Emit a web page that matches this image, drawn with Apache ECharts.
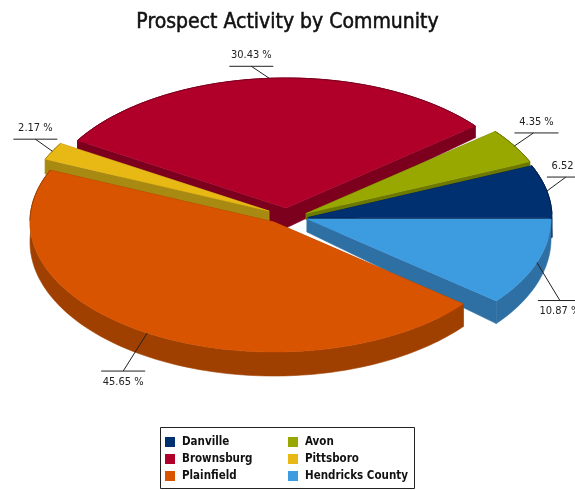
<!DOCTYPE html>
<html>
<head>
<meta charset="utf-8">
<style>html,body{margin:0;padding:0;background:#fff}#chart{width:575px;height:490px}</style>
<script src="https://cdn.jsdelivr.net/npm/echarts@6/dist/echarts.min.js"></script>
</head>
<body>
<div id="chart"></div>
<script>
// Share of prospects per community, in percent, going round from three o'clock.
const communities = ['Danville', 'Avon', 'Brownsburg', 'Pittsboro', 'Plainfield', 'Hendricks County'];
const shares = [6.52, 4.35, 30.43, 2.17, 45.65, 10.87];
const titleText = 'Prospect Activity by Community';

// Appearance of each slice: exploded centre, top and side colours, depth at the tip, label elbow offset.
const sliceStyle = [
  { cx: 308, cy: 217.5, top: '#003070', side: '#001f4a', tip: 10, elbow: [19, -14], shift: 3 },
  { cx: 306, cy: 213.5, top: '#98a800', side: '#6c7800', tip: 6,  elbow: [19, -13], shift: 3 },
  { cx: 286, cy: 208, top: '#b0002a', side: '#7c001e', tip: 20, elbow: [-18, -12], shift: 0 },
  { cx: 269, cy: 211, top: '#e8b815', side: '#a88a12', tip: 14, elbow: [-17, -12], shift: 0 },
  { cx: 274, cy: 222, top: '#d95400', side: '#a04000', tip: 19, elbow: [-24, 38], shift: 0 },
  { cx: 307, cy: 219, top: '#3d9ce0', side: '#2f70a4', tip: 13, elbow: [23, 38], shift: 0 }
];
const RX = 244, RY = 130;
const DEPTH_MID = 20, DEPTH_BACK = 13, DEPTH_FRONT = 4;
const total = shares.reduce((a, b) => a + b, 0);
const LABEL_FONT = '11px "Liberation Sans Narrow", "DejaVu Sans Condensed", sans-serif';

function startAngle(i) {
  let s = 0;
  for (let k = 0; k < i; k++) s += shares[k];
  return s / total * Math.PI * 2;
}

function rimDepth(a) {
  const s = Math.sin(a);
  return DEPTH_MID - (s > 0 ? DEPTH_BACK : DEPTH_FRONT) * s;
}

function renderSlice(i) {
  return function (params, api) {
    const st = sliceStyle[i];
    const value = api.value(0);
    const a0 = startAngle(i);
    const a1 = a0 + value / total * Math.PI * 2;
    const steps = Math.max(4, Math.round((a1 - a0) * 40));
    // Rim of the top face; depth grows toward the viewer.
    const rim = [];
    const backRim = [];
    for (let k = 0; k <= steps; k++) {
      const a = a0 + (a1 - a0) * k / steps;
      const p = [st.cx + RX * Math.cos(a), st.cy - RY * Math.sin(a), rimDepth(a)];
      rim.push(p);
      if (Math.sin(a) > 0) backRim.push([p[0], p[1]]);
    }
    const apex = [st.cx, st.cy, st.tip];
    const sideFill = { fill: st.side, stroke: st.side, lineWidth: 0.6 };
    const extrude = p => [p[0], p[1] + p[2]];
    const flat = p => [p[0], p[1]];
    const first = rim[0], last = rim[rim.length - 1];
    const children = [
      { type: 'polygon', shape: { points: [flat(apex), flat(first), extrude(first), extrude(apex)] }, style: sideFill },
      { type: 'polygon', shape: { points: [flat(apex), flat(last), extrude(last), extrude(apex)] }, style: sideFill },
      { type: 'polygon', shape: { points: rim.map(flat).concat(rim.slice().reverse().map(extrude)) }, style: sideFill },
      { type: 'polygon', shape: { points: [flat(apex)].concat(rim.map(flat)) }, style: { fill: st.top, stroke: st.top, lineWidth: 0.4 } }
    ];
    if (backRim.length > 1) {
      children.push({ type: 'polyline', shape: { points: backRim }, style: { fill: null, stroke: st.side, lineWidth: 1 } });
    }
    // Leader line from the rim at the slice's middle angle, then the value label.
    const mid = (a0 + a1) / 2;
    const ex = st.cx + RX * Math.cos(mid), ey = st.cy - RY * Math.sin(mid);
    const bx = ex + st.elbow[0], by = ey + st.elbow[1];
    const above = st.elbow[1] < 0;
    const labelX = bx + st.shift;
    children.push({
      type: 'polyline',
      shape: { points: [[ex, ey], [bx, by]] },
      style: { fill: null, stroke: '#222', lineWidth: 1 }
    });
    children.push({
      type: 'line',
      shape: { x1: labelX - 22, y1: by, x2: labelX + 22, y2: by },
      style: { stroke: '#222', lineWidth: 1 }
    });
    children.push({
      type: 'text',
      style: {
        x: labelX, y: above ? by - 11 : by + 11,
        text: value.toFixed(2) + ' %',
        font: LABEL_FONT, fill: '#222', align: 'center', verticalAlign: 'middle'
      }
    });
    return { type: 'group', children: children };
  };
}

// Paint order runs back to front so nearer slices overlap the farther ones.
const paintOrder = [2, 3, 1, 0, 5, 4];
const legendFont = {
  fontFamily: '"DejaVu Sans Condensed", sans-serif', fontWeight: 'bold', fontSize: 11.5,
  lineHeight: 11, color: '#111', padding: [0, 0, 0, 2]
};
const legendBase = {
  orient: 'vertical', selectedMode: false, icon: 'rect',
  itemWidth: 10, itemHeight: 10, itemGap: 5, padding: 0,
  textStyle: legendFont
};

const chart = echarts.init(document.getElementById('chart'), null, { renderer: 'canvas' });
chart.setOption({
  animation: false,
  backgroundColor: '#ffffff',
  title: {
    text: titleText, left: 'center', top: 7,
    textStyle: {
      fontFamily: '"DejaVu Sans Condensed", sans-serif', fontSize: 21, fontWeight: 'normal', color: '#111',
      textBorderColor: '#111', textBorderWidth: 0.5
    }
  },
  legend: [
    Object.assign({}, legendBase, { left: 165, top: 436, data: [communities[0], communities[2], communities[4]] }),
    Object.assign({}, legendBase, { left: 288, top: 436, data: [communities[1], communities[3], communities[5]] })
  ],
  graphic: [{
    type: 'rect', silent: true, z: -1,
    shape: { x: 160.5, y: 427.5, width: 254, height: 61 },
    style: { fill: '#fff', stroke: '#222', lineWidth: 1 }
  }],
  series: paintOrder.map(i => ({
    type: 'custom',
    name: communities[i],
    coordinateSystem: 'none',
    clip: false,
    silent: true,
    itemStyle: { color: sliceStyle[i].top },
    renderItem: renderSlice(i),
    data: [[shares[i]]]
  }))
});
</script>
</body>
</html>
